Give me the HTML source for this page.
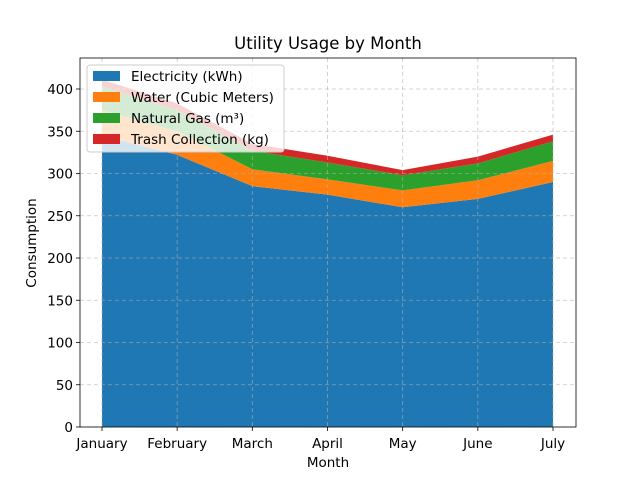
<!DOCTYPE html>
<html><head><meta charset="utf-8"><style>
body{margin:0;background:#fff}
svg text{font-family:"DejaVu Sans","Liberation Sans",sans-serif;fill:#000}
</style></head><body>
<svg id="c" width="640" height="480"></svg>
<script>
const months=["January","February","March","April","May","June","July"];
const electricity=[345,322,285,275,260,270,290];
const water=[30,28,20,18,20,22,25];
const gas=[28,25,22,20,18,20,23];
const trash=[8,8,8,8,6,8,8];
const yTicks=[0,50,100,150,200,250,300,350,400];
const seriesNames=["Electricity (kWh)","Water (Cubic Meters)","Natural Gas (m\u00b3)","Trash Collection (kg)"];
const colors=["#1f77b4","#ff7f0e","#2ca02c","#d62728"];
const svg=document.getElementById('c');
const NS="http://www.w3.org/2000/svg";
const L=80,R=576,T=58,B=427;
const x=i=>102+i*(553-102)/(months.length-1);
const y=v=>B-v*0.845;
function el(tag,attrs,parent){const e=document.createElementNS(NS,tag);for(const k in attrs)e.setAttribute(k,attrs[k]);(parent||svg).appendChild(e);return e;}
const all=[electricity,water,gas,trash];
let base=months.map(()=>0);
all.forEach((s,si)=>{
  const top=base.map((b,i)=>b+s[i]);
  let d="M"+months.map((m,i)=>x(i)+","+y(top[i])).join(" L");
  for(let i=months.length-1;i>=0;i--)d+=" L"+x(i)+","+y(base[i]);
  const p=el('path',{d:d+"Z",fill:colors[si]});
  
  
  base=top;
});
yTicks.forEach(t=>{
  const g=el('line',{x1:L,x2:R,y1:y(t),y2:y(t),stroke:"#b0b0b0","stroke-width":0.8,"stroke-dasharray":"4,3",opacity:0.7});
  
  
  el('line',{x1:L-4,x2:L,y1:y(t),y2:y(t),stroke:"#000","stroke-width":0.8});
  const tx=el('text',{x:L-7,y:y(t)+5,"text-anchor":"end","font-size":13.5});
  tx.textContent=t;
  
  
});
months.forEach((m,i)=>{
  const g=el('line',{x1:x(i),x2:x(i),y1:T,y2:B,stroke:"#b0b0b0","stroke-width":0.8,"stroke-dasharray":"4,3",opacity:0.7});
  
  
  el('line',{x1:x(i),x2:x(i),y1:B,y2:B+4,stroke:"#000","stroke-width":0.8});
  const tx=el('text',{x:x(i),y:B+21,"text-anchor":"middle","font-size":13.5});
  tx.textContent=m;
  
  
});
el('rect',{x:L,y:T,width:R-L,height:B-T,fill:"none",stroke:"#000","stroke-width":0.8});
let t=el('text',{x:328,y:49,"text-anchor":"middle","font-size":16.5});t.textContent="Utility Usage by Month";

t=el('text',{x:328,y:467,"text-anchor":"middle","font-size":13.5});t.textContent="Month";

t=el('text',{x:36,y:243,"text-anchor":"middle","font-size":13.5,transform:"rotate(-90 36 243)"});t.textContent="Consumption";

const lg=el('rect',{x:87,y:65,width:197,height:87,rx:3,fill:"#fff","fill-opacity":0.8,stroke:"#ccc","stroke-width":1});

seriesNames.forEach((n,i)=>{
  const yy=76+i*21;
  el('rect',{x:93,y:yy-5,width:27,height:10,fill:colors[i]});
  const tx=el('text',{x:131,y:yy+5,"font-size":13.5});
  tx.textContent=n;
  
  
});
</script>
</body></html>
